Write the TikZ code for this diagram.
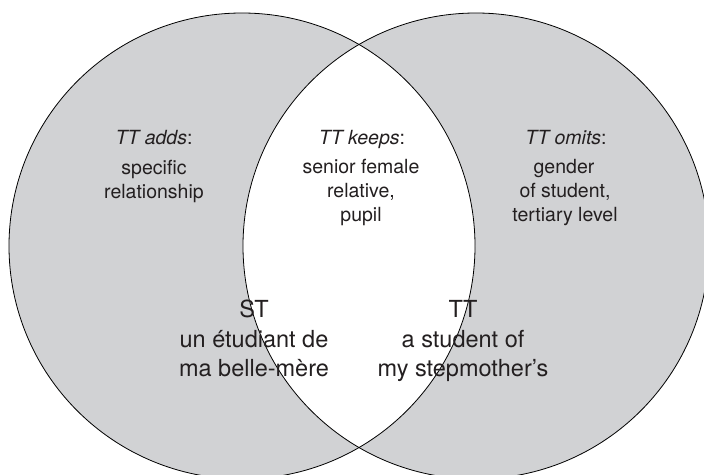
\documentclass[tikz,border=0pt]{standalone}
\usepackage{fontspec}
\setmainfont{TeX Gyre Heros}
\definecolor{venngrey}{RGB}{209,210,212}
\definecolor{txt}{RGB}{35,31,32}
\begin{document}
\begin{tikzpicture}[x=1pt,y=-1pt,
  upper/.style={font=\fontsize{19.5}{24}\selectfont, anchor=base, inner sep=0pt, text=txt},
  lower/.style={font=\fontsize{23.5}{29}\selectfont, anchor=base, inner sep=0pt, text=txt},
  outline/.style={draw=black, line width=0.8pt}]
\useasboundingbox (0,0) rectangle (704,474);
\clip (0,0) rectangle (704,474);
\coordinate (cl) at (242,246);
\coordinate (cr) at (476,246);
% fills
\fill[venngrey] (cl) circle[radius=233pt];
\fill[venngrey] (cr) circle[radius=233pt];
\begin{scope}
  \clip (cl) circle[radius=233pt];
  \fill[white] (cr) circle[radius=233pt];
\end{scope}
% outlines
\draw[outline] (cl) circle[radius=233pt];
\draw[outline] (cr) circle[radius=233pt];
% left region
\node[upper] (addsT) at (154,144) {\itshape TT adds\/\upshape:};
\node[upper] (adds1) at (154,174) {specific};
\node[upper] (adds2) at (154,198) {relationship};
% middle
\node[upper] (keepT) at (362,144) {\itshape TT keeps\/\upshape:};
\node[upper] (keep1) at (361,173) {senior female};
\node[upper] (keep2) at (361,197) {relative,};
\node[upper] (keep3) at (361,221) {pupil};
% right
\node[upper] (omitT) at (566,144) {\itshape TT omits\/\upshape:};
\node[upper] (omit1) at (564,173) {gender};
\node[upper] (omit2) at (565,197) {of student,};
\node[upper] (omit3) at (565,221) {tertiary level};
% lower labels
\node[lower] (st)  at (254,317) {ST};
\node[lower] (st1) at (254,347) {un étudiant de};
\node[lower] (st2) at (254,376) {ma belle-mère};
\node[lower] (tt)  at (463,317) {TT};
\node[lower] (tt1) at (463,347) {a student of};
\node[lower] (tt2) at (463,376) {my stepmother’s};
\end{tikzpicture}
\end{document}
